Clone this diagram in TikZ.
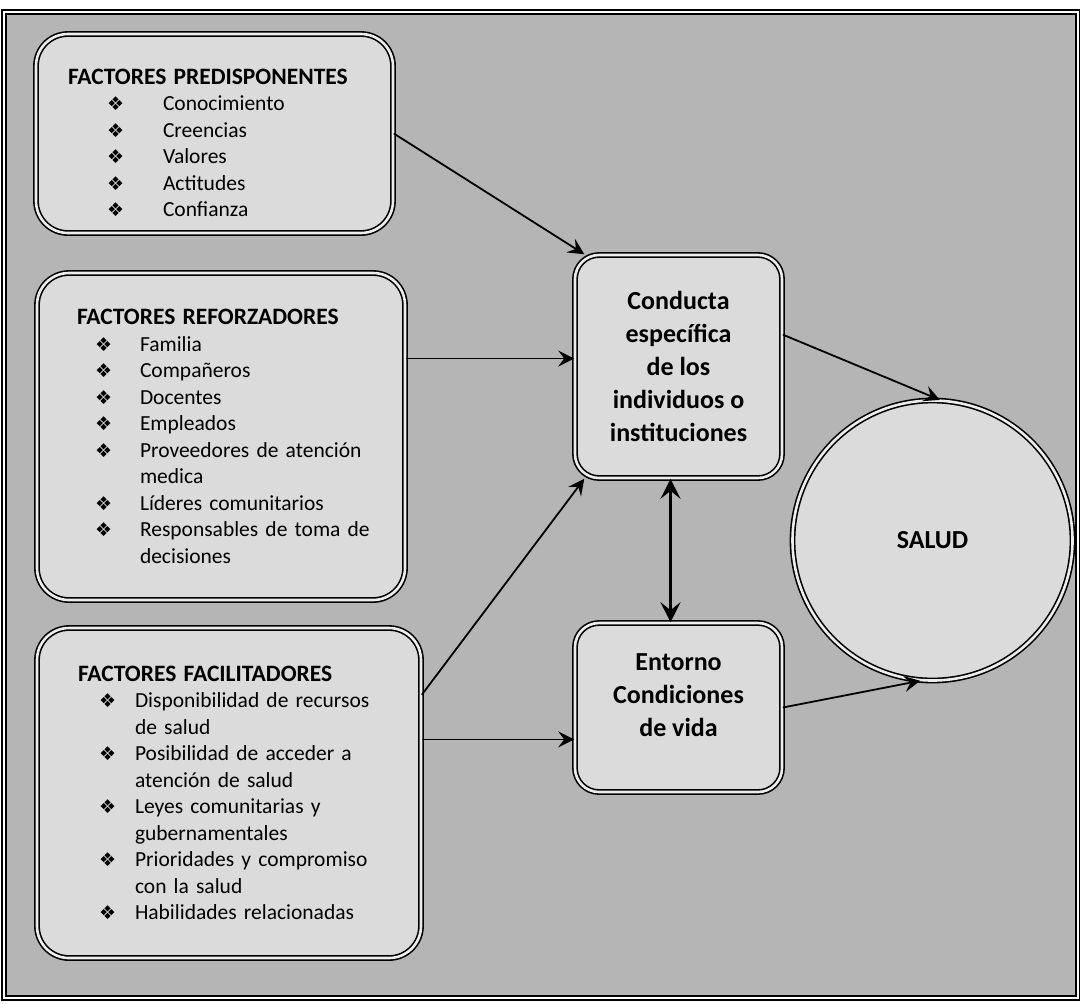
\documentclass[tikz,border=0pt]{standalone}
\usepackage{fontspec}
\setmainfont{Carlito}
\newfontfamily\symfont{DejaVu Sans}
\usetikzlibrary{arrows.meta,positioning}
\definecolor{fondo}{gray}{0.71}
\definecolor{caja}{gray}{0.86}
\newcommand{\marca}{{\symfont\fontsize{9.5}{9.5}\selectfont ❖}}
\newcommand{\punto}[3]{\mbox{\hspace*{#1}\makebox[8pt][l]{\marca}\hspace*{#2}#3}}
\newcommand{\sigue}[2]{\mbox{\hspace*{#1}#2}}
\newcommand{\titulo}[1]{\mbox{\fontsize{11.75}{13.25}\selectfont\bfseries #1}}

\begin{document}
\begin{tikzpicture}
    [x=0.5pt, y=-0.5pt,
    node distance=3cm,
    on grid,
    factor/.style = {draw, double=caja!50!white, double distance=1.3pt, thick, rounded corners=16pt,
      fill=caja, align=left, inner ysep=0pt, font=\fontsize{10.75}{13.25}\selectfont},
    conducta/.style = {draw, double=caja!50!white, double distance=1.3pt, thick, rounded corners=12pt,
      fill=caja, align=center, minimum width=103.5pt, font=\fontsize{13}{16.5}\selectfont\bfseries},
    salud/.style = {shape=circle, draw, double=caja!50!white, double distance=1.3pt, thick,
      fill=caja, minimum size=140pt, font=\fontsize{13}{16}\selectfont\bfseries},
    post/.style={-{Stealth[length=8pt, width=8pt, inset=3pt]}, line width=0.9pt},
    both/.style={{Stealth[length=10pt, width=10pt, inset=4pt]}-{Stealth[length=10pt, width=10pt, inset=4pt]}, line width=1.4pt}]

    \useasboundingbox (0,0) rectangle (1080,1003);
    \draw [double, double distance=1pt, thick, fill=fondo] (4,12) rectangle (1078,998);

    \node [factor, minimum width=178.5pt, minimum height=99.5pt, inner xsep=16pt, text width=146.5pt]
      (Predisponentes) at (214.5,133.5)
      {\rule{0pt}{17pt}\titulo{FACTORES PREDISPONENTES}\\
       \punto{19.5pt}{20pt}{Conocimiento}\\
       \punto{19.5pt}{20pt}{Creencias}\\
       \punto{19.5pt}{20pt}{Valores}\\
       \punto{19.5pt}{20pt}{Actitudes}\\
       \punto{19.5pt}{20pt}{Confianza}};
    \node [factor, minimum width=184pt, minimum height=163.5pt, inner xsep=20pt, text width=144pt]
      (Reforzadores) [below=151.5pt of Predisponentes, xshift=3.25pt]
      {\titulo{FACTORES REFORZADORES}\\
       \punto{9pt}{14.5pt}{Familia}\\
       \punto{9pt}{14.5pt}{Compañeros}\\
       \punto{9pt}{14.5pt}{Docentes}\\
       \punto{9pt}{14.5pt}{Empleados}\\
       \punto{9pt}{14.5pt}{Proveedores de atención}\\
       \sigue{31.5pt}{medica}\\
       \punto{9pt}{14.5pt}{Líderes comunitarios}\\
       \punto{9pt}{14.5pt}{Responsables de toma de}\\
       \sigue{31.5pt}{decisiones}};
    \node [factor, minimum width=192pt, minimum height=165pt, inner xsep=20.5pt, text width=151pt]
      (Facilitadores) [below=178.25pt of Reforzadores, xshift=4pt]
      {\titulo{FACTORES FACILITADORES}\\
       \punto{10.5pt}{10pt}{Disponibilidad de recursos}\\
       \sigue{28.5pt}{de salud}\\
       \punto{10.5pt}{10pt}{Posibilidad de acceder a}\\
       \sigue{28.5pt}{atención de salud}\\
       \punto{10.5pt}{10pt}{Leyes comunitarias y}\\
       \sigue{28.5pt}{gubernamentales}\\
       \punto{10.5pt}{10pt}{Prioridades y compromiso}\\
       \sigue{28.5pt}{con la salud}\\
       \punto{10.5pt}{10pt}{Habilidades relacionadas}};

    \node [conducta, minimum height=111.5pt] (Conducta) at (678.5,366.5)
      {Conducta\\ específica\\ de los\\ individuos o\\ instituciones};
    \node [conducta, minimum height=84.5pt] (Entorno) [below=170.5pt of Conducta]
      {Entorno\\ Condiciones\\ de vida\\[-4.5pt]};
    \node [salud] (SALUD) [right=127pt of Conducta, yshift=-87pt] {SALUD};

    \coordinate (refuerzo) at ([yshift=4pt]Conducta.west);
    \draw [post] (Predisponentes.east) -- (Conducta.130);
    \draw [post] (Reforzadores.east |- refuerzo) -- (refuerzo);
    \draw [post] (Facilitadores.27) -- (Conducta.230);
    \draw [post] (Facilitadores.east |- Entorno.197) -- (Entorno.197);
    \draw [post] (Conducta.17) -- (SALUD.87);
    \draw [post] (Entorno.east) -- (SALUD.265);
    \draw [both] ([xshift=-4pt]Conducta.south) -- ([xshift=-4pt]Entorno.north);
  \end{tikzpicture}
\end{document}
